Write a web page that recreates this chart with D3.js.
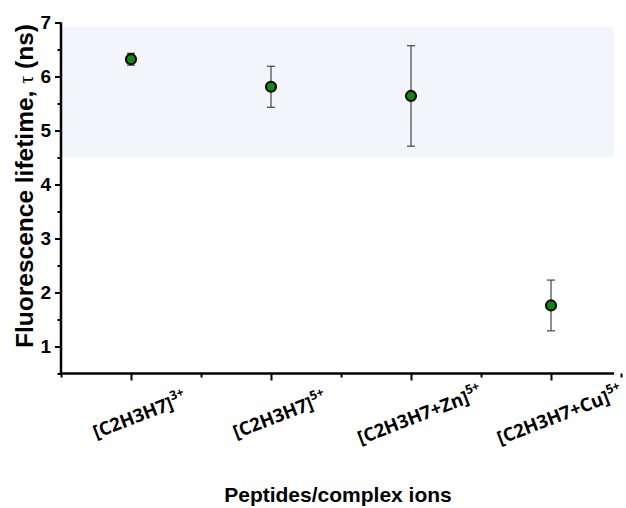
<!DOCTYPE html>
<html><head><meta charset="utf-8">
<script src="https://cdn.jsdelivr.net/npm/d3@7"></script>
<style>body{margin:0;background:#fff}</style>
</head><body>
<svg id="c" width="626" height="508"></svg>
<script>
const categories = ["[C2H3H7]", "[C2H3H7]", "[C2H3H7+Zn]", "[C2H3H7+Cu]"];
const charges = ["3+", "5+", "5+", "5+"];
const lifetimes = [6.32, 5.81, 5.64, 1.76];
const errors = [0.11, 0.38, 0.93, 0.47];
const bandRange = [4.5, 6.93];
const yTicks = [1, 2, 3, 4, 5, 6, 7];
const yMinorTicks = [0.5, 1.5, 2.5, 3.5, 4.5, 5.5, 6.5];

const svg = d3.select("#c");
const x = d3.scaleLinear().domain([0.5, 4.5]).range([61, 621]);
const y = d3.scaleLinear().domain([0.5, 7]).range([373.5, 22.5]);

// shaded band
svg.append("rect")
  .attr("x", x(0.5)).attr("width", x(4.45) - x(0.5))
  .attr("y", y(bandRange[1])).attr("height", y(bandRange[0]) - y(bandRange[1]))
  .attr("fill", "#f4f5fa");

// y axis
const yAxis = d3.axisLeft(y).tickValues(yTicks).tickSize(6).tickPadding(4).tickFormat(d3.format("d"));
const gy = svg.append("g").attr("transform", "translate(61,0)").call(yAxis);
gy.select(".domain").attr("stroke", "#000").attr("stroke-width", 2.5).attr("d", `M0,${y(0.5)}V${y(7)}`);
gy.selectAll(".tick line").attr("stroke-width", 2);
gy.selectAll(".tick text").attr("font-family", "Liberation Sans, Arial, sans-serif")
  .attr("font-weight", "bold").attr("font-size", 19).attr("fill", "#000");
svg.append("g").attr("transform", "translate(61,0)")
  .call(d3.axisLeft(y).tickValues(yMinorTicks).tickSize(3.5).tickFormat(""))
  .call(g => { g.select(".domain").remove(); g.selectAll("line").attr("stroke-width", 2); });

// x axis
const xMajor = [1, 2, 3, 4];
const xMinor = [0.5, 1.5, 2.5, 3.5, 4.5];
const gx = svg.append("g").attr("transform", `translate(0,${y(0.5)})`)
  .call(d3.axisBottom(x).tickValues(xMajor).tickSize(7).tickFormat(""));
gx.select(".domain").attr("stroke", "#000").attr("stroke-width", 2.5).attr("d", `M${x(0.5)-1.2},0H${x(4.45)}`);
gx.selectAll(".tick line").attr("stroke-width", 2);
svg.append("g").attr("transform", `translate(0,${y(0.5)})`)
  .call(d3.axisBottom(x).tickValues(xMinor).tickSize(4).tickFormat(""))
  .call(g => { g.select(".domain").remove(); g.selectAll("line").attr("stroke-width", 2); });

// category labels
categories.forEach((c, i) => {
  const t = svg.append("text")
    .attr("transform", `translate(${x(i + 1) + 11},${421}) rotate(-21)`)
    .attr("text-anchor", "middle")
    .attr("font-family", "'Open Sans', sans-serif")
    .attr("font-weight", "bold")
    .attr("font-size", 18.5).attr("fill", "#000");
  t.append("tspan").text(c);
  t.append("tspan").attr("font-size", 12.5).attr("dy", -8.5).text(charges[i]);
});

// error bars
const data = lifetimes.map((v, i) => ({ i: i + 1, v, e: errors[i] }));
const eb = svg.append("g").attr("stroke", "#444").attr("stroke-width", 1.2);
data.forEach(d => {
  eb.append("line").attr("x1", x(d.i)).attr("x2", x(d.i)).attr("y1", y(d.v + d.e)).attr("y2", y(d.v - d.e));
  eb.append("line").attr("x1", x(d.i) - 4).attr("x2", x(d.i) + 4).attr("y1", y(d.v + d.e)).attr("y2", y(d.v + d.e));
  eb.append("line").attr("x1", x(d.i) - 4).attr("x2", x(d.i) + 4).attr("y1", y(d.v - d.e)).attr("y2", y(d.v - d.e));
});

// markers
svg.append("g").selectAll("circle").data(data).join("circle")
  .attr("cx", d => x(d.i)).attr("cy", d => y(d.v)).attr("r", 5)
  .attr("fill", "#0f8a0f").attr("stroke", "#0a0a0a").attr("stroke-width", 2.2);

// axis titles
const yl = svg.append("text")
  .attr("transform", `translate(33,186) rotate(-90)`)
  .attr("text-anchor", "middle")
  .attr("font-family", "Liberation Sans, Arial, sans-serif")
  .attr("font-weight", "bold").attr("font-size", 24.5).attr("fill", "#000");
yl.append("tspan").text("Fluorescence lifetime, ");
yl.append("tspan").attr("font-family", "Liberation Serif, serif").attr("font-weight", "normal").attr("font-size", 20).text("τ");
yl.append("tspan").text(" (ns)");

svg.append("text")
  .attr("x", 338).attr("y", 502)
  .attr("text-anchor", "middle")
  .attr("font-family", "Liberation Sans, Arial, sans-serif")
  .attr("font-weight", "bold").attr("font-size", 21).attr("fill", "#000")
  .text("Peptides/complex ions");
</script>
</body></html>
